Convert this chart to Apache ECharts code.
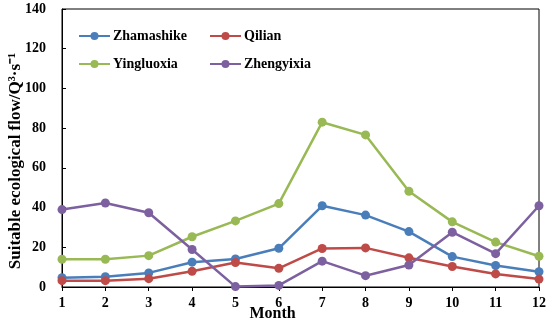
<!DOCTYPE html>
<html>
<head>
<meta charset="utf-8">
<script src="https://cdn.jsdelivr.net/npm/echarts@6/dist/echarts.min.js"></script>
<style>html,body{margin:0;padding:0;background:#fff}#c{width:550px;height:323px}</style>
</head>
<body>
<div id="c"></div>
<script>
const months = ['1','2','3','4','5','6','7','8','9','10','11','12'];
const zhamashike = [4.7, 5.2, 7.1, 12.5, 14.1, 19.5, 40.9, 36.2, 27.9, 15.3, 10.8, 7.7];
const qilian = [3.2, 3.2, 4.2, 7.9, 12.3, 9.4, 19.4, 19.7, 14.7, 10.3, 6.6, 4.0];
const yingluoxia = [14.0, 14.0, 15.8, 25.3, 33.3, 42.0, 83.0, 76.6, 48.2, 32.8, 22.6, 15.5];
const zhengyixia = [39.0, 42.3, 37.4, 18.9, 0.2, 0.8, 13.0, 5.7, 11.1, 27.6, 16.8, 40.9];
const yTicks = {min: 0, max: 140, interval: 20};

const font = 'Liberation Serif';
function mk(name, data, color) {
  return {name, type: 'line', data, symbol: 'circle', symbolSize: 9,
    lineStyle: {width: 2.5, color}, itemStyle: {color}, animation: false};
}
const legendCommon = {orient: 'vertical', padding: 0, itemWidth: 31, itemHeight: 10, itemGap: 14,
  textStyle: {fontFamily: font, fontWeight: 'bold', fontSize: 14, color: '#000', padding: [0,0,0,-2]}};
const chart = echarts.init(document.getElementById('c'));
chart.setOption({
  animation: false,
  grid: {left: 62, right: 11, top: 9, bottom: 36, show: true, borderColor: '#000', borderWidth: 1,
    containLabel: false, outerBoundsMode: 'none'},
  legend: [
    Object.assign({left: 78, top: 29, data: ['Zhamashike', 'Yingluoxia']}, legendCommon),
    Object.assign({left: 209, top: 29, data: ['Qilian', 'Zhengyixia']}, legendCommon)
  ],
  xAxis: {type: 'category', data: months, boundaryGap: false,
    name: 'Month', nameLocation: 'middle', nameGap: 19, nameMoveOverlap: false,
    nameTextStyle: {fontFamily: font, fontWeight: 'bold', fontSize: 16, color: '#000', padding: [0, 56, 0, 0]},
    axisLine: {lineStyle: {color: '#000', width: 1}},
    axisTick: {show: true, inside: false, length: 4, lineStyle: {color: '#000'}},
    axisLabel: {fontFamily: font, fontWeight: 'bold', fontSize: 14, color: '#000', margin: 9},
    splitLine: {show: false}},
  yAxis: {type: 'value', min: yTicks.min, max: yTicks.max, interval: yTicks.interval,
    name: 'Suitable ecological flow/Q³·s⁻¹', nameLocation: 'middle', nameGap: 38, nameMoveOverlap: false,
    nameTextStyle: {fontFamily: font, fontWeight: 'bold', fontSize: 17, color: '#000', padding: [0, 26, 0, 0]},
    axisLine: {show: true, lineStyle: {color: '#000', width: 1}},
    axisTick: {show: true, inside: true, length: 4, lineStyle: {color: '#000'}},
    axisLabel: {fontFamily: font, fontWeight: 'bold', fontSize: 14, color: '#000', margin: 16},
    splitLine: {show: false}},
  series: [
    mk('Zhamashike', zhamashike, '#4A7EBB'),
    mk('Qilian', qilian, '#BE4B48'),
    mk('Yingluoxia', yingluoxia, '#98B954'),
    mk('Zhengyixia', zhengyixia, '#7D60A0')
  ]
});
</script>
</body>
</html>
